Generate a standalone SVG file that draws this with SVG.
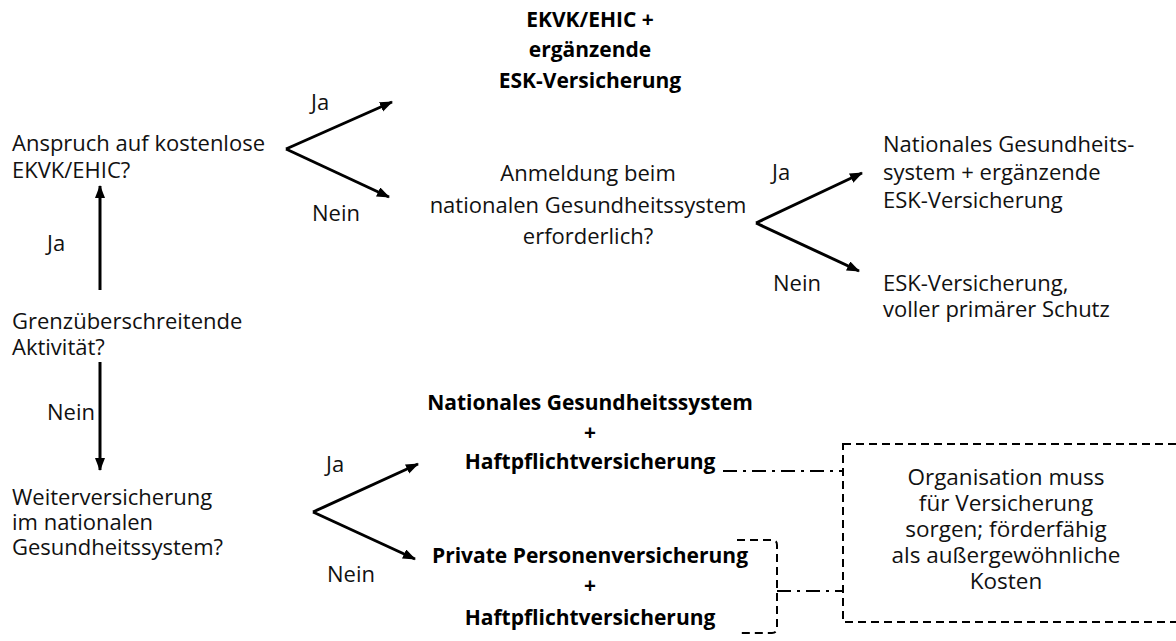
<svg xmlns="http://www.w3.org/2000/svg" width="1176" height="641" viewBox="0 0 1176 641">
<style>
  text { font-family: "Open Sans", "Noto Sans", "Liberation Sans", sans-serif; font-size: 22px; fill: #111; }
  .b { font-weight: bold; font-size: 21px; fill: #000; }
  .c { text-anchor: middle; }
  .box { font-size: 22.5px; }
  .arrow { stroke: #000; stroke-width: 3; fill: none; marker-end: url(#ah); }
  .dash { stroke: #000; stroke-width: 2; fill: none; stroke-dasharray: 8 5; }
  .dashdot { stroke: #000; stroke-width: 2; fill: none; stroke-dasharray: 14 6 3 6; }
</style>
<defs>
  <marker id="ah" markerUnits="userSpaceOnUse" markerWidth="14" markerHeight="12" refX="12" refY="5" orient="auto">
    <path d="M0,0 L13,5 L0,10 z" fill="#000"/>
  </marker>
</defs>
<rect width="1176" height="641" fill="#fff"/>

<g id="connectors">
  <line class="arrow" x1="100" y1="290" x2="100" y2="186"/>
  <line class="arrow" x1="100" y1="362" x2="100" y2="470"/>
  <line class="arrow" x1="286" y1="149" x2="392" y2="102"/>
  <line class="arrow" x1="286" y1="149" x2="389" y2="197"/>
  <line class="arrow" x1="756" y1="223" x2="862" y2="173"/>
  <line class="arrow" x1="756" y1="223" x2="859" y2="271"/>
  <line class="arrow" x1="313" y1="512" x2="418" y2="464"/>
  <line class="arrow" x1="313" y1="512" x2="415" y2="559"/>
  <path class="dashdot" d="M723,471 H843"/>
  <path class="dash" d="M737,540 H772 Q777,540 777,545 V628 Q777,633 772,633 H737"/>
  <path class="dashdot" d="M777,591 H843"/>
  <text x="311" y="110">Ja</text>
  <text x="312" y="221">Nein</text>
  <text x="772" y="180">Ja</text>
  <text x="773" y="291">Nein</text>
  <text x="47" y="251">Ja</text>
  <text x="47" y="420">Nein</text>
  <text x="326" y="472">Ja</text>
  <text x="327" y="582">Nein</text>
</g>

<g id="n-anspruch">
  <text x="12" y="151">Anspruch auf kostenlose</text>
  <text x="12" y="178">EKVK/EHIC?</text>
</g>
<g id="n-grenz">
  <text x="12" y="329">Grenzüberschreitende</text>
  <text x="12" y="355">Aktivität?</text>
</g>
<g id="n-weiter">
  <text x="12" y="505">Weiterversicherung</text>
  <text x="12" y="530">im nationalen</text>
  <text x="12" y="555">Gesundheitssystem?</text>
</g>
<g id="n-ekvk">
  <text class="b c" x="590" y="27">EKVK/EHIC +</text>
  <text class="b c" x="590" y="57">ergänzende</text>
  <text class="b c" x="590" y="88">ESK-Versicherung</text>
</g>
<g id="n-anmeldung">
  <text class="c" x="588" y="181">Anmeldung beim</text>
  <text class="c" x="588" y="213">nationalen Gesundheitssystem</text>
  <text class="c" x="588" y="244">erforderlich?</text>
</g>
<g id="n-nat-esk">
  <text x="883" y="152">Nationales Gesundheits-</text>
  <text x="883" y="180">system + ergänzende</text>
  <text x="883" y="208">ESK-Versicherung</text>
</g>
<g id="n-esk-voll">
  <text x="883" y="291">ESK-Versicherung,</text>
  <text x="883" y="317">voller primärer Schutz</text>
</g>
<g id="n-nat-haft">
  <text class="b c" x="590" y="410">Nationales Gesundheitssystem</text>
  <text class="b c" x="590" y="440">+</text>
  <text class="b c" x="590" y="469">Haftpflichtversicherung</text>
</g>
<g id="n-priv-haft">
  <text class="b c" x="590" y="563">Private Personenversicherung</text>
  <text class="b c" x="590" y="593">+</text>
  <text class="b c" x="590" y="625">Haftpflichtversicherung</text>
</g>
<g id="n-org">
  <rect class="dash" x="843" y="444" width="345" height="178"/>
  <text class="c box" x="1006" y="485">Organisation muss</text>
  <text class="c box" x="1006" y="511">für Versicherung</text>
  <text class="c box" x="1006" y="537">sorgen; förderfähig</text>
  <text class="c box" x="1006" y="563">als außergewöhnliche</text>
  <text class="c box" x="1006" y="589">Kosten</text>
</g>
</svg>
